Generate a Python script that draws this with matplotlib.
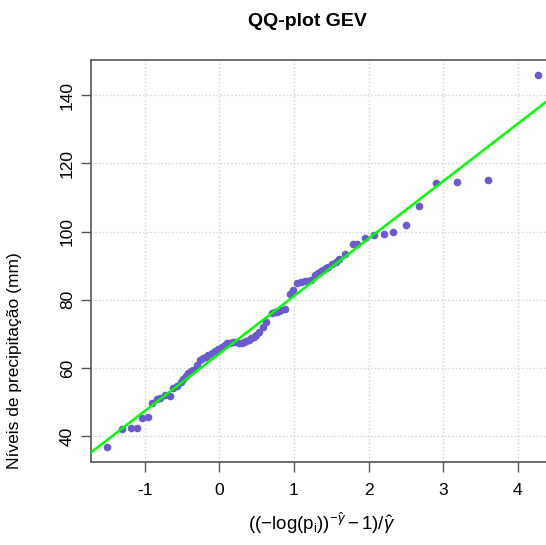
import numpy as np
import matplotlib
matplotlib.use("Agg")
import matplotlib.pyplot as plt

plt.rcParams['font.family'] = ['Liberation Sans', 'DejaVu Sans']
plt.rcParams['mathtext.fontset'] = 'custom'
plt.rcParams['mathtext.rm'] = 'Liberation Sans'
plt.rcParams['mathtext.it'] = 'Liberation Sans:italic'

# theoretical GEV quantiles (standardised) and ordered observed maxima
quantis = [-1.50, -1.31, -1.19, -1.11, -1.03, -0.96, -0.90, -0.84, -0.80, -0.73,
           -0.66, -0.62, -0.57, -0.52, -0.49, -0.45, -0.42, -0.38, -0.35, -0.30,
           -0.26, -0.22, -0.18, -0.15, -0.10, -0.06, -0.02, 0.03, 0.07, 0.10,
           0.14, 0.18, 0.23, 0.27, 0.30, 0.33, 0.36, 0.40, 0.43, 0.46,
           0.49, 0.53, 0.58, 0.63, 0.70, 0.74, 0.77, 0.80, 0.83, 0.88,
           0.945, 0.99, 1.035, 1.10, 1.15, 1.19, 1.23, 1.28, 1.32, 1.36,
           1.39, 1.43, 1.46, 1.51, 1.56, 1.60, 1.68, 1.79, 1.85, 1.95,
           2.07, 2.21, 2.33, 2.50, 2.68, 2.91, 3.19, 3.60, 4.27]
precip = [36.9, 42.0, 42.5, 42.5, 45.2, 45.7, 49.6, 50.8, 51.3, 52.0,
          51.7, 54.0, 54.7, 55.9, 56.9, 57.5, 58.4, 59.0, 59.4, 61.0,
          62.3, 62.8, 63.3, 63.8, 64.3, 64.9, 65.5, 66.2, 66.8, 67.2,
          67.3, 67.5, 67.5, 67.4, 67.2, 67.6, 67.9, 68.2, 68.7, 69.0,
          69.6, 70.6, 72.0, 73.5, 76.0, 76.3, 76.5, 76.8, 77.0, 77.2,
          81.8, 82.8, 84.8, 85.2, 85.4, 85.6, 85.8, 87.2, 87.9, 88.3,
          88.7, 89.2, 89.6, 90.4, 91.2, 92.0, 93.4, 96.3, 96.5, 98.2,
          98.9, 99.2, 99.9, 101.9, 107.4, 114.1, 114.6, 115.1, 145.9]

# fitted location and scale
mu = 64.2
sigma = 16.85

xticks = [-1, 0, 1, 2, 3, 4]
yticks = [40, 60, 80, 100, 120, 140]

fig = plt.figure(figsize=(5.46, 5.45), dpi=100)
ax = fig.add_axes([0.1667, 0.1528, 0.8498, 0.737])

ax.grid(True, color='#D3D3D3', linestyle=':', linewidth=1)
ax.set_axisbelow(True)
ax.plot(quantis, precip, 'o', color='#6A5ACD', markersize=5.5, markeredgewidth=0, zorder=3)
ax.axline((0, mu), slope=sigma, color='#00FF00', linewidth=1.8, zorder=4)

ax.set_xlim(-1.72, 4.5)
ax.set_ylim(32.5, 150.3)
ax.set_xticks(xticks)
ax.set_yticks(yticks)
ax.set_xticklabels([str(v) for v in xticks])
ax.set_yticklabels([str(v) for v in yticks], rotation=90, va='center')

for s in ['left', 'top', 'bottom']:
    ax.spines[s].set_color('#555555')
    ax.spines[s].set_linewidth(1.2)
ax.spines['right'].set_visible(False)
ax.tick_params(length=7.5, width=1, color='#555555', labelsize=12.5)
ax.tick_params(axis='x', pad=8)
ax.tick_params(axis='y', pad=4)

ax.set_xlabel(r'$((-\log(\mathrm{p}_\mathrm{i}))^{-\hat{\gamma}}-1)/\hat{\gamma}$', fontsize=13.5)
ax.xaxis.set_label_coords((322 - 91) / 464, -(510 - 461.7) / 401.7)
ax.set_ylabel('Níveis de precipitação (mm)', fontsize=12.5)
ax.yaxis.set_label_coords((22 - 91) / 464, 1 - (361 - 60) / 401.7)

fig.text(307 / 546, 1 - 21 / 545, 'QQ-plot GEV', ha='center', va='center',
         fontsize=14, fontweight='bold')

fig.savefig('out.png', dpi=100)
